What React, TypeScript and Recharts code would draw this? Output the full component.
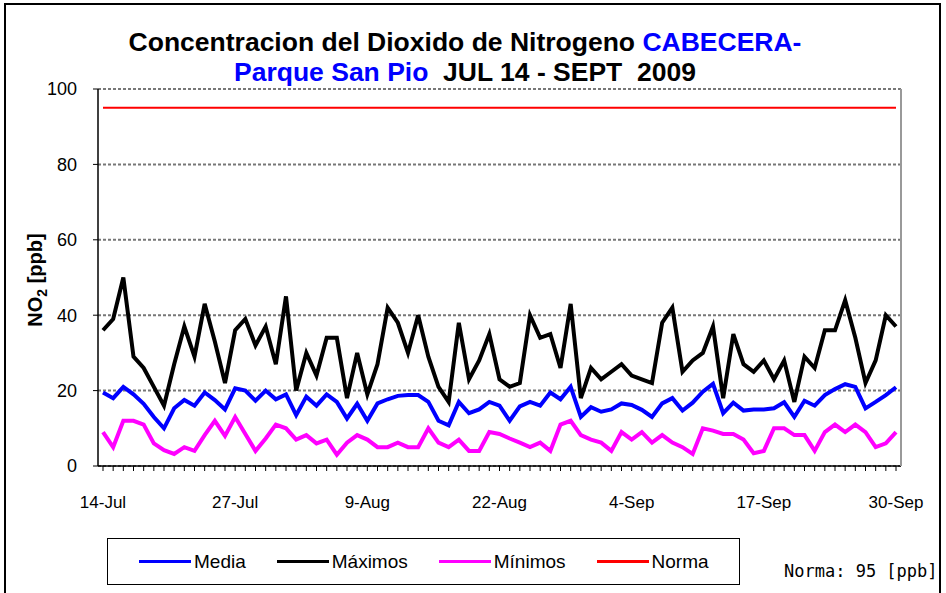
import { LineChart, Line, XAxis, YAxis, CartesianGrid } from "recharts";

const months = ["Jul", "Aug", "Sep"];
const monthDays = [31, 31, 30];
const firstDay = 14;

// 14-Jul .. 30-Sep 2009, one category per day
const days: string[] = [];
months.forEach((mon, m) => {
  for (let d = m === 0 ? firstDay : 1; d <= monthDays[m]; d++) days.push(`${d}-${mon}`);
});

const tickLabels = ["14-Jul", "27-Jul", "9-Aug", "22-Aug", "4-Sep", "17-Sep", "30-Sep"];

const maximos = [
  36, 39, 50, 29, 26, 21, 16, 27, 37, 29, 43, 33, 22,
  36, 39, 32, 37, 27, 45, 20, 30, 24, 34, 34, 18, 30,
  19, 27, 42, 38, 30, 40, 29, 21, 17, 38, 23, 28, 35,
  23, 21, 22, 40, 34, 35, 26, 43, 18, 26, 23, 25, 27,
  24, 23, 22, 38, 42, 25, 28, 30, 37, 18, 35, 27, 25,
  28, 23, 28, 17, 29, 26, 36, 36, 44, 34, 22, 28, 40, 37,
];

const media = [
  19.5, 18, 21, 19, 16.5, 13, 10, 15.3, 17.5, 16, 19.5, 17.5, 15,
  20.6, 20, 17.3, 20, 17.7, 19, 13.5, 18.4, 16, 19, 17, 12.6, 16.5,
  12, 16.6, 17.7, 18.6, 18.8, 18.8, 17, 12, 10.8, 17, 14, 15, 17,
  16, 12, 15.8, 17, 16, 19.5, 17.7, 21, 13, 15.6, 14.4, 15, 16.6,
  16.2, 14.9, 13, 16.6, 18, 14.7, 16.8, 19.7, 21.8, 14, 16.8, 14.7, 15,
  15, 15.3, 16.9, 13, 17.3, 16, 18.8, 20.4, 21.7, 21, 15.3, 17, 18.8, 20.9,
];

const minimos = [
  9, 5, 12, 12, 11, 6, 4.2, 3.2, 5, 4, 8.2, 12, 8,
  13, 8.5, 4, 7.3, 11, 10, 7, 8.2, 6, 7, 3, 6.2, 8.2,
  7, 5, 5, 6.2, 5, 5, 10, 6.2, 5, 7, 4, 4, 9,
  8.5, 7.3, 6.2, 5, 6.2, 4, 11, 12, 8.2, 7, 6.2, 4, 9,
  7, 9, 6.2, 8.2, 6.2, 5, 3.2, 10, 9.4, 8.5, 8.5, 7, 3.4,
  4, 10, 10, 8.2, 8.2, 4, 9, 11, 9, 11, 9, 5, 6, 9,
];

const NORMA = 95;

const data = days.map((day, i) => ({
  day,
  media: media[i],
  maximos: maximos[i],
  minimos: minimos[i],
  norma: NORMA,
}));

const legendItems = [
  { name: "Media", color: "#0000ff" },
  { name: "Máximos", color: "#000000" },
  { name: "Mínimos", color: "#ff00ff" },
  { name: "Norma", color: "#ff0000" },
];

const XTick = ({ x, y, payload }: any) => {
  if (!tickLabels.includes(payload.value)) return null;
  return (
    <text x={x} y={y} dy="0.71em" textAnchor="middle" fontSize={17} fill="#000" fontFamily="Liberation Sans">
      {payload.value}
    </text>
  );
};

export default function App() {
  return (
    <div style={{ position: "absolute", left: 0, top: 0, width: 946, height: 593, background: "#fff", overflow: "hidden", fontFamily: "Liberation Sans" }}>
      <div style={{ position: "absolute", left: 4, top: 3, width: 937, height: 640, border: "2px solid #000", boxSizing: "border-box" }} />

      <div style={{ position: "absolute", left: 0, top: 27, width: 930, textAlign: "center", fontWeight: "bold", fontSize: 26.5, lineHeight: "30px" }}>
        <div>
          Concentracion del Dioxido de Nitrogeno <span style={{ color: "#0000ff" }}>CABECERA-</span>
        </div>
        <div style={{ whiteSpace: "pre" }}>
          <span style={{ color: "#0000ff" }}>Parque San Pio</span>{"  JUL 14 - SEPT  2009"}
        </div>
      </div>

      <LineChart width={946} height={593} data={data} margin={{ top: 89, right: 43, bottom: 87, left: 0 }}>
        <CartesianGrid horizontal vertical={false} stroke="#777" strokeDasharray="3 2" strokeWidth={2} />
        <XAxis
          dataKey="day"
          interval={0}
          height={40}
          padding={{ left: 5, right: 5 }}
          tick={<XTick />}
          tickSize={5}
          tickMargin={25}
          axisLine={{ stroke: "#000", strokeWidth: 1.5 }}
          tickLine={{ stroke: "#000" }}
        />
        <YAxis
          domain={[0, 100]}
          ticks={[0, 20, 40, 60, 80, 100]}
          width={98}
          tickSize={5}
          tickMargin={16}
          tick={{ fontSize: 18, fill: "#000", fontFamily: "Liberation Sans" }}
          axisLine={{ stroke: "#000", strokeWidth: 1.5 }}
          tickLine={{ stroke: "#000" }}
        />
        <YAxis yAxisId="r" orientation="right" domain={[0, 100]} width={2} tick={false} tickLine={false} axisLine={{ stroke: "#999", strokeWidth: 2 }} />
        <Line dataKey="norma" stroke="#ff0000" strokeWidth={2} dot={false} isAnimationActive={false} />
        <Line dataKey="maximos" stroke="#000000" strokeWidth={4} dot={false} isAnimationActive={false} />
        <Line dataKey="media" stroke="#0000ff" strokeWidth={4} dot={false} isAnimationActive={false} />
        <Line dataKey="minimos" stroke="#ff00ff" strokeWidth={4} dot={false} isAnimationActive={false} />
      </LineChart>

      <div
        style={{
          position: "absolute",
          left: 37,
          top: 280,
          transform: "translate(-50%, -50%) rotate(-90deg)",
          fontWeight: "bold",
          fontSize: 20,
          whiteSpace: "nowrap",
        }}
      >
        NO<sub style={{ fontSize: 14 }}>2</sub> [ppb]
      </div>

      <div
        style={{
          position: "absolute",
          left: 107,
          top: 538,
          width: 633,
          height: 47,
          border: "1px solid #000",
          boxSizing: "border-box",
          display: "flex",
          alignItems: "center",
          paddingLeft: 31,
          gap: 31,
          fontSize: 19,
        }}
      >
        {legendItems.map((it) => (
          <div key={it.name} style={{ display: "flex", alignItems: "center" }}>
            <span style={{ display: "inline-block", width: 52, height: 3, background: it.color, marginRight: 3 }} />
            <span>{it.name}</span>
          </div>
        ))}
      </div>

      <div style={{ position: "absolute", left: 784, top: 561, fontFamily: "DejaVu Sans Mono", fontSize: 17 }}>Norma: 95 [ppb]</div>
    </div>
  );
}
